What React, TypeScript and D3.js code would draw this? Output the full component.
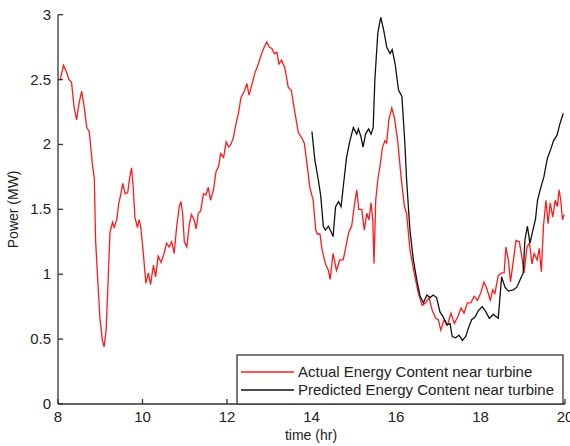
import React from 'react';
import * as d3 from 'd3';

// actual energy content (red), hours / MW
const actualT = [8.0, 8.05, 8.13, 8.21, 8.26, 8.32, 8.38, 8.44, 8.5, 8.56, 8.62, 8.68, 8.74, 8.81, 8.86, 8.89, 8.94, 8.99, 9.05, 9.09, 9.14, 9.19, 9.23, 9.29, 9.33, 9.39, 9.44, 9.49, 9.53, 9.59, 9.65, 9.7, 9.74, 9.78, 9.82, 9.88, 9.92, 9.96, 10.02, 10.08, 10.14, 10.19, 10.26, 10.31, 10.37, 10.44, 10.51, 10.57, 10.63, 10.69, 10.75, 10.81, 10.87, 10.91, 10.95, 10.99, 11.05, 11.11, 11.16, 11.22, 11.27, 11.32, 11.38, 11.44, 11.5, 11.56, 11.61, 11.68, 11.74, 11.8, 11.85, 11.92, 11.98, 12.04, 12.09, 12.15, 12.2, 12.27, 12.33, 12.41, 12.47, 12.52, 12.58, 12.66, 12.74, 12.82, 12.88, 12.94, 13.0, 13.06, 13.12, 13.18, 13.23, 13.29, 13.37, 13.45, 13.52, 13.61, 13.69, 13.77, 13.83, 13.89, 13.96, 14.04, 14.1, 14.14, 14.2, 14.25, 14.33, 14.4, 14.44, 14.51, 14.59, 14.67, 14.75, 14.8, 14.88, 14.95, 15.01, 15.07, 15.12, 15.19, 15.25, 15.31, 15.36, 15.41, 15.45, 15.48, 15.52, 15.57, 15.62, 15.68, 15.74, 15.78, 15.83, 15.9, 15.96, 16.04, 16.12, 16.2, 16.25, 16.33, 16.43, 16.53, 16.62, 16.7, 16.78, 16.86, 16.94, 17.0, 17.06, 17.14, 17.22, 17.3, 17.38, 17.46, 17.54, 17.61, 17.69, 17.77, 17.85, 17.93, 18.01, 18.08, 18.15, 18.23, 18.29, 18.34, 18.42, 18.5, 18.56, 18.6, 18.66, 18.71, 18.78, 18.84, 18.92, 18.98, 19.03, 19.1, 19.16, 19.22, 19.27, 19.34, 19.39, 19.44, 19.49, 19.55, 19.6, 19.65, 19.71, 19.77, 19.82, 19.86, 19.9, 19.94, 19.98];
const actualP = [2.5, 2.5, 2.61, 2.55, 2.5, 2.48, 2.29, 2.19, 2.32, 2.41, 2.29, 2.13, 2.1, 1.86, 1.73, 1.26, 0.96, 0.67, 0.49, 0.44, 0.57, 0.98, 1.32, 1.4, 1.36, 1.42, 1.55, 1.62, 1.7, 1.62, 1.63, 1.75, 1.82, 1.67, 1.44, 1.36, 1.42, 1.36, 1.16, 0.93, 1.01, 0.92, 1.07, 0.98, 1.14, 1.09, 1.16, 1.24, 1.21, 1.25, 1.16, 1.37, 1.52, 1.56, 1.47, 1.25, 1.21, 1.39, 1.46, 1.42, 1.35, 1.47, 1.49, 1.62, 1.61, 1.67, 1.57, 1.65, 1.79, 1.83, 1.93, 1.9, 2.02, 1.98, 2.0, 2.05, 2.14, 2.24, 2.36, 2.41, 2.47, 2.38, 2.45, 2.55, 2.62, 2.7, 2.75, 2.79, 2.75, 2.74, 2.7, 2.71, 2.62, 2.65, 2.59, 2.44, 2.42, 2.24, 2.09, 2.05, 2.01, 1.86, 1.67, 1.57, 1.34, 1.31, 1.31, 1.19, 1.08, 1.03, 0.96, 1.16, 1.03, 1.11, 1.11, 1.19, 1.32, 1.37, 1.52, 1.65, 1.5, 1.5, 1.34, 1.47, 1.42, 1.55, 1.42, 1.08, 1.57, 1.73, 1.83, 1.98, 2.03, 2.01, 2.19, 2.28, 2.21, 2.03, 1.75, 1.52, 1.47, 1.19, 1.01, 0.85, 0.76, 0.78, 0.82, 0.72, 0.66, 0.65, 0.57, 0.65, 0.61, 0.7, 0.62, 0.67, 0.74, 0.7, 0.78, 0.78, 0.83, 0.8, 0.86, 0.94, 0.89, 0.8, 0.88, 0.85, 0.99, 1.01, 1.01, 1.21, 1.11, 0.94, 1.11, 1.26, 1.25, 1.13, 1.01, 1.21, 1.24, 1.08, 1.16, 1.11, 1.2, 1.02, 1.37, 1.57, 1.39, 1.55, 1.44, 1.57, 1.52, 1.65, 1.57, 1.42, 1.46];

// predicted energy content (black)
const predT = [14.01, 14.08, 14.16, 14.22, 14.28, 14.33, 14.4, 14.46, 14.51, 14.57, 14.64, 14.7, 14.75, 14.83, 14.91, 14.99, 15.07, 15.11, 15.17, 15.22, 15.28, 15.35, 15.41, 15.46, 15.5, 15.57, 15.64, 15.71, 15.78, 15.86, 15.91, 15.98, 16.06, 16.14, 16.21, 16.25, 16.33, 16.41, 16.49, 16.57, 16.65, 16.73, 16.81, 16.88, 16.96, 17.04, 17.12, 17.2, 17.28, 17.33, 17.41, 17.49, 17.57, 17.65, 17.73, 17.79, 17.87, 17.95, 18.04, 18.11, 18.21, 18.3, 18.42, 18.5, 18.58, 18.66, 18.78, 18.86, 18.94, 19.01, 19.05, 19.11, 19.17, 19.24, 19.3, 19.35, 19.42, 19.5, 19.58, 19.66, 19.73, 19.81, 19.88, 19.96];
const predP = [2.1, 1.88, 1.73, 1.6, 1.37, 1.34, 1.37, 1.33, 1.29, 1.52, 1.56, 1.52, 1.67, 1.9, 2.03, 2.13, 2.08, 2.12, 2.06, 1.98, 2.08, 2.12, 2.08, 2.13, 2.5, 2.86, 2.98, 2.88, 2.75, 2.7, 2.73, 2.62, 2.42, 2.37, 2.01, 1.73, 1.34, 1.11, 0.96, 0.83, 0.78, 0.84, 0.82, 0.84, 0.82, 0.71, 0.67, 0.61, 0.62, 0.52, 0.51, 0.53, 0.49, 0.52, 0.6, 0.65, 0.67, 0.72, 0.75, 0.72, 0.66, 0.69, 0.66, 0.98, 0.9, 0.87, 0.88, 0.9, 0.96, 1.01, 1.26, 1.37, 1.24, 1.34, 1.42, 1.57, 1.66, 1.75, 1.89, 1.96, 2.03, 2.07, 2.16, 2.24];

const xTicks = [8, 10, 12, 14, 16, 18, 20];
const yTicks = [0, 0.5, 1, 1.5, 2, 2.5, 3];
const legendNames = ['Actual Energy Content near turbine', 'Predicted Energy Content near turbine'];

const W = 570;
const H = 446;
const FONT = '"Liberation Sans", Arial, sans-serif';

export default function App() {
  const x = d3.scaleLinear().domain([8, 20]).range([58, 565]);
  const y = d3.scaleLinear().domain([0, 3]).range([404, 14.7]);

  const line = d3.line<[number, number]>().x(d => x(d[0])).y(d => y(d[1]));
  const actual = actualT.map((t, i) => [t, actualP[i]] as [number, number]);
  const pred = predT.map((t, i) => [t, predP[i]] as [number, number]);

  const axisColor = '#333';

  return (
    <svg width={W} height={H} style={{ position: 'absolute', left: 0, top: 0, background: '#fff' }} fontFamily={FONT}>
      <rect width={W} height={H} fill="#fff" />
      <path d={line(actual) ?? ''} fill="none" stroke="#ff1a1a" strokeWidth={1.3} />
      <path d={line(pred) ?? ''} fill="none" stroke="#111" strokeWidth={1.3} />

      {/* axes */}
      <line x1={x(8)} x2={x(20)} y1={y(0)} y2={y(0)} stroke={axisColor} strokeWidth={1.3} />
      <line x1={x(8)} x2={x(8)} y1={y(0)} y2={y(3)} stroke={axisColor} strokeWidth={1.3} />
      {xTicks.map(t => (
        <g key={'x' + t}>
          <line x1={x(t)} x2={x(t)} y1={y(0)} y2={y(0) - 5} stroke={axisColor} strokeWidth={1.3} />
          <text x={x(t)} y={422} textAnchor="middle" fontSize={15} fill="#222">{t}</text>
        </g>
      ))}
      {yTicks.map(v => (
        <g key={'y' + v}>
          <line x1={x(8)} x2={x(8) + 5} y1={y(v)} y2={y(v)} stroke={axisColor} strokeWidth={1.3} />
          <text x={51} y={y(v) + 5} textAnchor="end" fontSize={15} fill="#222">{v}</text>
        </g>
      ))}
      <text x={311} y={440} textAnchor="middle" fontSize={14} fill="#222">time (hr)</text>
      <text transform={`translate(18,${y(1.5)}) rotate(-90)`} textAnchor="middle" fontSize={14} fill="#222">Power (MW)</text>

      {/* legend */}
      <rect x={237} y={355} width={326} height={49} fill="#fff" stroke={axisColor} strokeWidth={1.3} />
      {legendNames.map((n, i) => (
        <g key={n}>
          <line x1={241} x2={294} y1={372 + i * 18} y2={372 + i * 18} stroke={i === 0 ? '#ff1a1a' : '#111'} strokeWidth={1.3} />
          <text x={298} y={377 + i * 18} fontSize={15} fill="#222">{n}</text>
        </g>
      ))}
    </svg>
  );
}
